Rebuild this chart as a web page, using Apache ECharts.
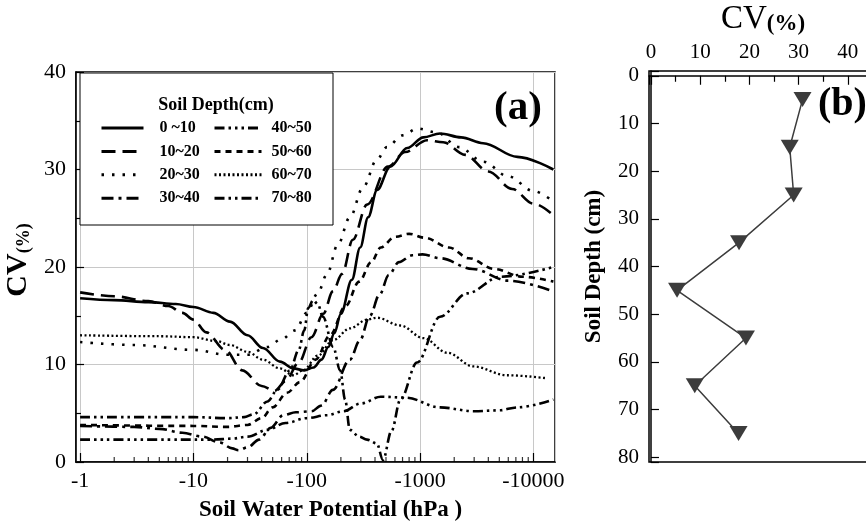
<!DOCTYPE html>
<html><head><meta charset="utf-8">
<script src="https://cdn.jsdelivr.net/npm/echarts@6.0.0/dist/echarts.min.js"></script>
<style>html,body{margin:0;padding:0;background:#fff}#c{width:866px;height:525px}</style>
</head><body><div id="c"></div>
<script>
// ---------- data (panel a): [soil water potential magnitude (hPa), CV %] ----------
const seriesNames = ['0 ~10', '10~20', '20~30', '30~40', '40~50', '50~60', '60~70', '70~80'];
const cv_0_10 = [[1,16.8],[2,16.6],[4,16.4],[7,16.2],[10,15.9],[15,15.3],[21,14.4],[30,13.0],[41,11.7],[58,10.3],[76,9.6],[95,9.4],[115,9.7],[135,10.5],[155,11.8],[175,13.2],[200,15.2],[250,18.7],[296,22.0],[348,25.1],[417,27.9],[545,30.3],[770,32.2],[1070,33.3],[1500,33.7],[2300,33.3],[3600,32.7],[7200,31.3],[15000,30.0]];
const cv_10_20 = [[1,17.4],[2,17.0],[4,16.5],[6,16.0],[8,15.3],[10,14.6],[13,13.3],[19,11.5],[27,9.4],[40,7.8],[52,7.3],[65,8.3],[85,10.2],[110,12.8],[140,15.2],[170,17.5],[205,19.3],[255,22.8],[340,26.4],[520,30.3],[740,31.8],[1150,33.0],[1600,32.8],[2500,31.5],[4000,29.8],[6500,28.0],[10000,26.5],[15000,25.3]];
const cv_20_30 = [[1,12.3],[3,12.0],[10,11.5],[20,11.0],[30,11.0],[45,11.8],[60,12.6],[79,13.5],[100,15.3],[125,17.3],[150,19.2],[188,22.3],[240,25.1],[315,28.2],[415,31.0],[510,32.3],[700,33.5],[950,34.2],[1400,33.8],[2200,32.3],[3600,30.8],[6000,29.3],[10000,27.8],[15000,26.7]];
const cv_30_40 = [[1,3.7],[3,3.6],[5,3.4],[8,3.0],[12,2.6],[17,2.0],[22,1.4],[25,1.2],[30,1.5],[38,2.3],[48,3.5],[62,4.8],[80,5.1],[110,5.2],[135,5.8],[170,7.4],[240,10.5],[295,12.5],[360,15.0],[440,17.2],[530,19.2],[650,20.5],[850,21.2],[1050,21.3],[1500,20.9],[2900,19.8],[6000,18.6],[15000,17.5]];
const cv_40_50 = [[1,2.3],[8,2.3],[15,2.3],[22,2.4],[30,2.6],[45,3.3],[65,4.0],[100,4.5],[150,4.8],[210,5.2],[300,6.0],[450,6.7],[750,6.6],[1500,5.6],[3000,5.2],[5000,5.3],[7200,5.6],[15000,6.4]];
const cv_50_60 = [[1,3.8],[10,3.7],[20,3.6],[30,3.8],[40,4.5],[50,5.6],[67,7.1],[87,8.2],[120,10.5],[160,13.0],[220,16.0],[290,18.5],[370,20.5],[450,22.0],[600,23.1],[800,23.4],[1100,23.0],[1800,22.0],[2700,20.9],[4500,19.8],[8000,19.0],[15000,18.5]];
const cv_60_70 = [[1,13.0],[5,12.9],[10,12.8],[16,12.4],[21,12.0],[30,11.3],[41,10.5],[58,9.6],[76,8.9],[93,9.4],[125,10.9],[171,12.5],[240,13.7],[340,14.6],[415,14.8],[670,14.0],[1070,12.7],[1740,11.2],[2950,9.8],[5800,8.9],[13000,8.6]];
const cv_70_80 = [[1,4.6],[10,4.6],[20,4.5],[28,4.6],[34,4.9],[45,6.2],[55,7.4],[71,9.4],[85,11.5],[95,13.5],[103,15.8],[114,16.6],[125,16.2],[139,14.9],[171,11.8],[197,9.4],[218,6.4],[240,3.3],[290,2.6],[340,2.3],[415,1.9],[470,0.2],[560,3.2],[670,6.4],[940,10.2],[1500,14.9],[2600,17.3],[5100,19.0],[15000,20.0]];
const seriesData = [cv_0_10, cv_10_20, cv_20_30, cv_30_40, cv_40_50, cv_50_60, cv_60_70, cv_70_80];
// minor tick positions on the log axis (hPa magnitudes)
const minorTickPotentials = [2,3,4,5,6,7,8,9,20,30,40,50,60,70,80,90,200,300,400,500,600,700,800,900,2000,3000,4000,5000,6000,7000,8000,9000];

// ---------- data (panel b) ----------
const depthProfile = [5, 15, 25, 35, 45, 55, 65, 75];
const cvProfile = [30.8, 28.2, 29.0, 17.9, 5.3, 19.3, 8.9, 17.8];

// ---------- styles ----------
const FONT = 'Liberation Serif';
const dashStyles = ['solid', [14,7], [2.5,8], [12,5,3,5], [10,4,2.5,4,2.5,4,2.5,4], [6,5], [2,2.5], [10,4,2.5,4,2.5,4]];

const chart = echarts.init(document.getElementById('c'), null, {renderer: 'canvas'});

const lineSeries = seriesNames.map((n, i) => ({
  type: 'line', name: n, xAxisIndex: 0, yAxisIndex: 0,
  data: seriesData[i], symbol: 'none', showSymbol: false,
  smooth: 0.35, smoothMonotone: 'x',
  lineStyle: {color: '#000', width: i === 6 ? 2.3 : 2.6, type: dashStyles[i]},
  itemStyle: {color: '#000'}, z: 2
}));

const legendBase = {
  orient: 'vertical', top: 120, padding: 0, itemHeight: 14, itemGap: 7.4,
  selectedMode: false, z: 6,
  itemStyle: {opacity: 0},
  lineStyle: {width: 3},
  textStyle: {fontFamily: FONT, fontSize: 16, fontWeight: 'bold', color: '#000'}
};

const option = {
  animation: false,
  backgroundColor: '#fff',
  textStyle: {fontFamily: FONT},
  grid: [
    {left: 76, top: 72, width: 479, height: 390, show: true, borderColor: '#000', borderWidth: 1.5, containLabel: false, outerBoundsMode: 'none'},
    {left: 649, top: 71, width: 248, height: 391, show: true, borderColor: '#000', borderWidth: 1.5, containLabel: false, outerBoundsMode: 'none'}
  ],
  legend: [
    Object.assign({}, legendBase, {data: seriesNames.slice(0, 4), left: 100, itemWidth: 42,
      textStyle: Object.assign({}, legendBase.textStyle, {padding: [0, 0, 0, 11]})}),
    Object.assign({}, legendBase, {data: seriesNames.slice(4), left: 213, itemWidth: 47,
      textStyle: Object.assign({}, legendBase.textStyle, {padding: [0, 0, 0, 5]})})
  ],
  xAxis: [
    {
      type: 'log', gridIndex: 0, logBase: 10, min: 0.92, max: 15500,
      axisLine: {show: true, lineStyle: {color: '#000', width: 1.5}},
      axisTick: {show: true, inside: true, length: 9, lineStyle: {color: '#000', width: 1.2}},
      axisLabel: {fontSize: 22, color: '#000', fontFamily: FONT, margin: 8, showMinLabel: false, showMaxLabel: false,
        formatter: v => '-' + Math.round(v)},
      splitLine: {show: true, lineStyle: {color: '#c8c8c8', width: 1}},
      name: 'Soil Water Potential (hPa )', nameLocation: 'middle', nameGap: 37,
      nameTextStyle: {fontSize: 23, fontWeight: 'bold', color: '#000', fontFamily: FONT, padding: [0, 0, 0, 30]}
    },
    {
      type: 'value', gridIndex: 1, position: 'top', min: -0.4, max: 50, splitNumber: 5,
      axisLine: {show: true, lineStyle: {color: '#000', width: 1.5}},
      axisTick: {show: true, inside: true, length: 9, lineStyle: {color: '#000', width: 1.2}},
      minorTick: {show: true, splitNumber: 2, length: 6, lineStyle: {color: '#000', width: 1.2}},
      axisLabel: {fontSize: 21, color: '#000', fontFamily: FONT, margin: 8,
        formatter: v => (Math.abs(v % 10) < 1e-9 ? String(Math.round(v)) : '')},
      splitLine: {show: false},
      name: '{a|CV}{b|(%)}', nameLocation: 'middle', nameGap: 35,
      nameTextStyle: {padding: [0, 20, 0, 0], rich: {
        a: {fontSize: 33, fontFamily: FONT, color: '#000'},
        b: {fontSize: 23, fontFamily: FONT, fontWeight: 'bold', color: '#000', verticalAlign: 'bottom'}
      }}
    }
  ],
  yAxis: [
    {
      type: 'value', gridIndex: 0, min: 0, max: 40, interval: 10,
      axisLine: {show: true, lineStyle: {color: '#000', width: 1.5}},
      axisTick: {show: true, inside: true, length: 8, lineStyle: {color: '#000', width: 1.2}},
      minorTick: {show: true, splitNumber: 2, length: 5, lineStyle: {color: '#000', width: 1.2}},
      axisLabel: {fontSize: 22, color: '#000', fontFamily: FONT, margin: 10},
      splitLine: {show: true, lineStyle: {color: '#c8c8c8', width: 1}},
      name: '{a|CV}{b|(%)}', nameLocation: 'middle', nameGap: 33,
      nameTextStyle: {padding: [0, 0, 0, 14], rich: {
        a: {fontSize: 30, fontFamily: FONT, fontWeight: 'bold', color: '#000'},
        b: {fontSize: 18, fontFamily: FONT, fontWeight: 'bold', color: '#000', verticalAlign: 'bottom'}
      }}
    },
    {
      type: 'value', gridIndex: 1, inverse: true, min: -1, max: 81, splitNumber: 8,
      axisLine: {show: true, lineStyle: {color: '#000', width: 1.5}},
      axisTick: {show: true, inside: true, length: 8, lineStyle: {color: '#000', width: 1.2}},
      axisLabel: {fontSize: 21, color: '#000', fontFamily: FONT, margin: 10,
        formatter: v => (Math.abs(v % 10) < 1e-9 ? String(Math.round(v)) : '')},
      splitLine: {show: false},
      name: 'Soil Depth (cm)', nameLocation: 'middle', nameGap: 43,
      nameTextStyle: {fontSize: 23, fontWeight: 'bold', color: '#000', fontFamily: FONT}
    }
  ],
  graphic: [
    {type: 'rect', shape: {x: 80, y: 73, width: 253, height: 152}, style: {fill: '#fff', stroke: '#000', lineWidth: 1}, z: 3},
    {type: 'text', x: 216, y: 105, z: 5, style: {text: 'Soil Depth(cm)', font: 'bold 18px "Liberation Serif"', fill: '#000', align: 'center', verticalAlign: 'middle'}},
    {type: 'text', x: 518, y: 108, z: 5, style: {text: '(a)', font: 'bold 41px "Liberation Serif"', fill: '#000', align: 'center', verticalAlign: 'middle'}},
    {type: 'text', x: 818, y: 105, z: 5, style: {text: '(b)', font: 'bold 40px "Liberation Serif"', fill: '#000', align: 'left', verticalAlign: 'middle'}}
  ],
  series: lineSeries.concat([
    {
      type: 'scatter', xAxisIndex: 0, yAxisIndex: 0, silent: true, clip: false,
      data: minorTickPotentials.map(p => [p, 0]),
      symbol: 'rect', symbolSize: [1.2, 5], symbolOffset: [0, -2.5],
      itemStyle: {color: '#000'}, z: 3
    },
    {
      type: 'line', name: 'CV profile', xAxisIndex: 1, yAxisIndex: 1,
      data: cvProfile.map((c, i) => [c, depthProfile[i]]),
      symbol: 'triangle', symbolRotate: 180, symbolSize: [18, 15], showSymbol: true,
      lineStyle: {color: '#3c3c3c', width: 1.5}, itemStyle: {color: '#3c3c3c'}, z: 2
    }
  ])
};
chart.setOption(option);
</script></body></html>
